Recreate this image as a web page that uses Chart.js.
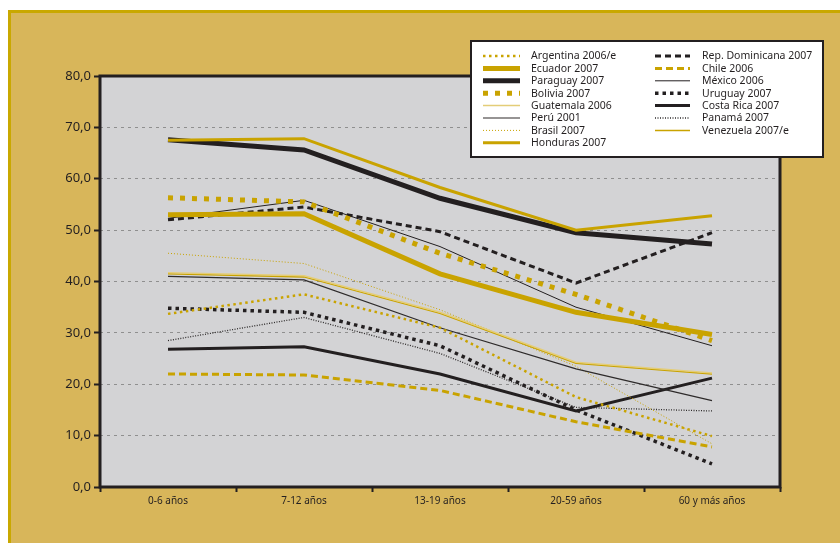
<!DOCTYPE html>
<html>
<head>
<meta charset="utf-8">
<script src="https://cdn.jsdelivr.net/npm/chart.js@4.4.1/dist/chart.umd.min.js"></script>
<style>
    html, body { margin: 0; padding: 0; background: #ffffff; }
    #wrap { width: 840px; height: 543px; position: relative; }
</style>
</head>
<body>
<div id="wrap"><canvas id="board" width="840" height="543"></canvas></div>
<script>
var categories = ['0-6 años', '7-12 años', '13-19 años', '20-59 años', '60 y más años'];
var yTicks = [0, 10, 20, 30, 40, 50, 60, 70, 80];

var argentina = [33.7, 37.5, 31.0, 17.5, 9.9];
var ecuador = [53.0, 53.2, 41.5, 34.0, 29.7];
var paraguay = [67.6, 65.6, 56.2, 49.5, 47.3];
var bolivia = [56.3, 55.5, 45.5, 37.5, 28.5];
var guatemala = [41.7, 41.1, 34.0, 24.3, 22.2];
var peru = [41.0, 40.3, 31.0, 23.0, 16.8];
var brasil = [45.5, 43.5, 34.5, 23.5, 8.4];
var honduras = [67.5, 67.8, 58.3, 50.0, 52.8];
var repDominicana = [52.0, 54.5, 49.7, 39.7, 49.5];
var chile = [22.0, 21.8, 18.8, 12.7, 7.8];
var mexico = [52.3, 55.8, 46.8, 35.0, 27.5];
var uruguay = [34.8, 34.0, 27.5, 15.0, 4.5];
var costaRica = [26.8, 27.3, 22.0, 14.8, 21.2];
var panama = [28.5, 33.0, 26.0, 15.5, 14.8];
var venezuela = [41.5, 40.9, 33.8, 24.1, 22.0];

const GOLD = '#c9a300';
const PALE = '#e4cd78';
const DARK = '#231f20';

function serie(label, data, color, width, dash) {
    return {
        label: label,
        data: data,
        borderColor: color,
        backgroundColor: color,
        borderWidth: width,
        borderDash: dash,
        borderCapStyle: 'butt',
        pointRadius: 0,
        tension: 0,
        fill: false
    };
}

const datasets = [
    serie('Argentina 2006/e', argentina, GOLD, 2.5, [2.5, 3.5]),
    serie('Ecuador 2007', ecuador, GOLD, 5, []),
    serie('Bolivia 2007', bolivia, GOLD, 5, [5, 7]),
    serie('Guatemala 2006', guatemala, PALE, 1.5, []),
    serie('Perú 2001', peru, '#2e2b2b', 1.2, []),
    serie('Brasil 2007', brasil, GOLD, 1, [1, 2]),
    serie('Honduras 2007', honduras, GOLD, 3, []),
    serie('Paraguay 2007', paraguay, DARK, 5, []),
    serie('Rep. Dominicana 2007', repDominicana, DARK, 3, [6, 4]),
    serie('Chile 2006', chile, GOLD, 3, [7, 4]),
    serie('México 2006', mexico, DARK, 1, []),
    serie('Uruguay 2007', uruguay, DARK, 3.5, [3.5, 4]),
    serie('Costa Rica 2007', costaRica, DARK, 3, []),
    serie('Panamá 2007', panama, '#2e2b2b', 1.3, [1, 1.5]),
    serie('Venezuela 2007/e', venezuela, GOLD, 1.5, [])
];

// legend order as in the picture
const legendOrder = [
    ['Argentina 2006/e', 'Ecuador 2007', 'Paraguay 2007', 'Bolivia 2007', 'Guatemala 2006', 'Perú 2001', 'Brasil 2007', 'Honduras 2007'],
    ['Rep. Dominicana 2007', 'Chile 2006', 'México 2006', 'Uruguay 2007', 'Costa Rica 2007', 'Panamá 2007', 'Venezuela 2007/e']
];

const frame = {
    id: 'frame',
    beforeDraw(chart) {
        const { ctx, chartArea: { top, left, width, height } } = chart;
        ctx.save();
        ctx.fillStyle = '#ffffff';
        ctx.fillRect(0, 0, chart.width, chart.height);
        ctx.fillStyle = '#c9a800';
        ctx.fillRect(8, 10, chart.width - 8, chart.height - 10);
        ctx.fillStyle = '#d8b65a';
        ctx.fillRect(11, 13, chart.width - 11, chart.height - 13);
        ctx.fillStyle = '#d3d3d5';
        ctx.fillRect(left, top, width, height);
        ctx.restore();
    },
    afterDatasetsDraw(chart) {
        const { ctx, chartArea: { top, left, width, height } } = chart;
        ctx.save();
        ctx.strokeStyle = DARK;
        ctx.lineWidth = 3;
        ctx.strokeRect(left, top, width, height);
        ctx.restore();
    }
};

const boxLegend = {
    id: 'boxLegend',
    afterDraw(chart) {
        const ctx = chart.ctx;
        const bx = 471, by = 41, bw = 352, bh = 116;
        ctx.save();
        ctx.fillStyle = '#ffffff';
        ctx.fillRect(bx, by, bw, bh);
        ctx.strokeStyle = DARK;
        ctx.lineWidth = 2;
        ctx.strokeRect(bx, by, bw, bh);
        ctx.font = '10.5px "Noto Sans"';
        ctx.textBaseline = 'middle';
        const cols = [{ x0: 483, x1: 520, tx: 531 }, { x0: 655, x1: 690, tx: 702 }];
        legendOrder.forEach((names, c) => {
            names.forEach((name, r) => {
                const ds = datasets.find(d => d.label === name);
                const y = 56 + r * 12.4;
                ctx.beginPath();
                ctx.strokeStyle = ds.borderColor;
                ctx.lineWidth = ds.borderWidth;
                ctx.lineCap = 'butt';
                ctx.setLineDash(ds.borderDash);
                ctx.moveTo(cols[c].x0, y);
                ctx.lineTo(cols[c].x1, y);
                ctx.stroke();
                ctx.setLineDash([]);
                ctx.fillStyle = DARK;
                ctx.fillText(name, cols[c].tx, y + 0.5);
            });
        });
        ctx.restore();
    }
};

const ctx = document.getElementById('board').getContext('2d');
window.myChart = new Chart(ctx, {
    type: 'line',
    data: {
        labels: categories,
        datasets: datasets
    },
    options: {
        responsive: false,
        animation: false,
        layout: {
            padding: { left: 0, top: 76, right: 60, bottom: 0 }
        },
        plugins: {
            legend: { display: false },
            tooltip: { enabled: false }
        },
        scales: {
            x: {
                offset: true,
                grid: {
                    offset: true,
                    drawOnChartArea: false,
                    drawTicks: true,
                    tickLength: 5,
                    tickColor: DARK,
                    tickWidth: 2
                },
                border: { display: false },
                ticks: {
                    color: DARK,
                    font: { family: 'Noto Sans', size: 10 },
                    padding: 3,
                    maxRotation: 0
                },
                afterFit: s => { s.height = 56; }
            },
            y: {
                min: 0,
                max: 80,
                afterBuildTicks: s => { s.ticks = yTicks.map(v => ({ value: v })); },
                grid: {
                    color: '#8f8f8f',
                    lineWidth: 1,
                    tickColor: DARK,
                    tickWidth: 2,
                    tickLength: 6,
                    tickBorderDash: []
                },
                border: { display: false, dash: [3, 4] },
                ticks: {
                    color: DARK,
                    font: { family: 'Noto Sans', size: 13 },
                    padding: 3,
                    callback: v => v.toFixed(1).replace('.', ',')
                },
                afterFit: s => { s.width = 100; }
            }
        }
    },
    plugins: [frame, boxLegend]
});
</script>
</body>
</html>
